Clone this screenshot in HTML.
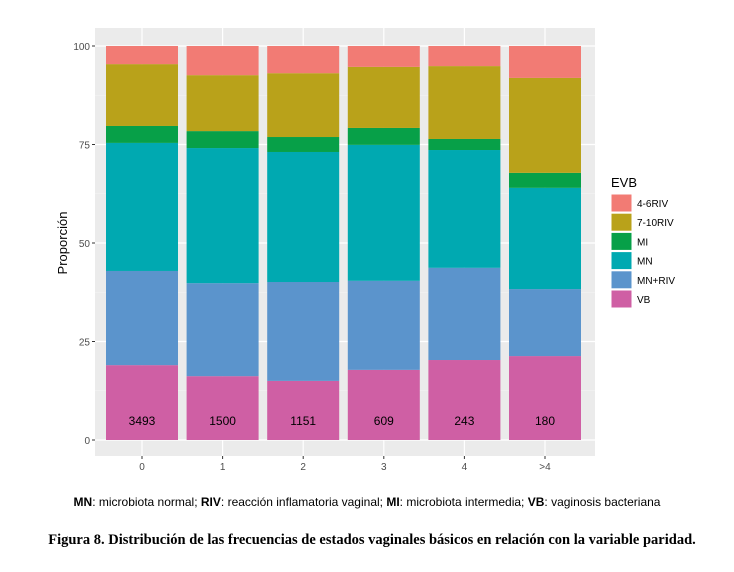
<!DOCTYPE html>
<html><head><meta charset="utf-8"><style>
body{margin:0;background:#fff;width:734px;height:567px;overflow:hidden;font-family:"Liberation Sans",sans-serif}
</style></head><body>
<svg id="chart" width="734" height="567" xmlns="http://www.w3.org/2000/svg">
<rect x="95" y="28" width="500" height="428" fill="#ebebeb"/>
<g id="grid"></g><g id="bars"></g><g id="axes"></g>
<text x="611" y="187" font-size="13" fill="#000">EVB</text>
<g id="legend"></g>
<text transform="translate(67,243) rotate(-90)" text-anchor="middle" font-size="13">Proporción</text>
<text x="367" y="506" text-anchor="middle" font-size="12"><tspan font-weight="bold">MN</tspan>: microbiota normal; <tspan font-weight="bold">RIV</tspan>: reacción inflamatoria vaginal; <tspan font-weight="bold">MI</tspan>: microbiota intermedia; <tspan font-weight="bold">VB</tspan>: vaginosis bacteriana</text>
<text x="372" y="544" text-anchor="middle" font-size="14.5" font-weight="bold" font-family="Liberation Serif, serif">Figura 8. Distribución de las frecuencias de estados vaginales básicos en relación con la variable paridad.</text>
</svg>
<script>
const categories=["0","1","2","3","4",">4"];
const counts=[3493,1500,1151,609,243,180];
const seriesNames=["VB","MN+RIV","MN","MI","7-10RIV","4-6RIV"];
const VB=[19.0,16.2,15.0,17.8,20.3,21.3];
const MNRIV=[23.9,23.6,25.1,22.6,23.4,17.0];
const MN=[32.5,34.3,33.0,34.5,29.9,25.7];
const MI=[4.3,4.3,3.8,4.3,2.8,3.8];
const R710=[15.7,14.2,16.2,15.5,18.5,24.1];
const R46=[4.6,7.4,6.9,5.3,5.1,8.1];
const yTicks=[0,25,50,75,100];
const colors={"VB":"#cf5fa4","MN+RIV":"#5b94cc","MN":"#00a9b1","MI":"#07a048","7-10RIV":"#b9a21a","4-6RIV":"#f27b74"};
const series=[VB,MNRIV,MN,MI,R710,R46];
const NS="http://www.w3.org/2000/svg";
const y=v=>440-v*3.94;
const x=i=>142+i*80.6;
const bw=72;
function mk(t,a,p){const e=document.createElementNS(NS,t);for(const k in a)e.setAttribute(k,a[k]);document.getElementById(p).appendChild(e);return e;}
yTicks.forEach((t,i)=>{
 const g=mk("line",{x1:95,x2:595,y1:y(t),y2:y(t),stroke:"#fff","stroke-width":1.2},"grid");
 
 
 if(i<yTicks.length-1){const m=mk("line",{x1:95,x2:595,y1:y(t+12.5),y2:y(t+12.5),stroke:"#f5f5f5","stroke-width":0.6},"grid");
 
 }
 const l=mk("text",{x:90,y:y(t)+4,"text-anchor":"end","font-size":10,fill:"#4d4d4d"},"axes");l.textContent=t;
 
 
 const tk=mk("line",{x1:92,x2:95,y1:y(t),y2:y(t),stroke:"#333"},"axes");
 
 
});
categories.forEach((c,i)=>{
 const g=mk("line",{x1:x(i),x2:x(i),y1:28,y2:456,stroke:"#fff","stroke-width":1.2},"grid");
 
 
 let cum=0;
 series.forEach((s,j)=>{
  const r=mk("rect",{x:x(i)-bw/2,y:y(cum+s[i]),width:bw,height:s[i]*3.94,fill:colors[seriesNames[j]]},"bars");
  
  
  cum+=s[i];
 });
 const n=mk("text",{x:x(i),y:425,"text-anchor":"middle","font-size":12,fill:"#000"},"bars");n.textContent=counts[i];
 
 
 const l=mk("text",{x:x(i),y:470,"text-anchor":"middle","font-size":10,fill:"#4d4d4d"},"axes");l.textContent=c;
 
 
 const tk=mk("line",{x1:x(i),x2:x(i),y1:456,y2:459,stroke:"#333"},"axes");
 
 
});
const legOrder=["4-6RIV","7-10RIV","MI","MN","MN+RIV","VB"];
legOrder.forEach((s,i)=>{
 const r=mk("rect",{x:611,y:194+i*19.2,width:21,height:18,fill:colors[s],stroke:"#fff"},"legend");
 
 
 const t=mk("text",{x:637,y:207+i*19.2,"font-size":10,fill:"#000"},"legend");t.textContent=s;
 
 
});
</script>
</body></html>
